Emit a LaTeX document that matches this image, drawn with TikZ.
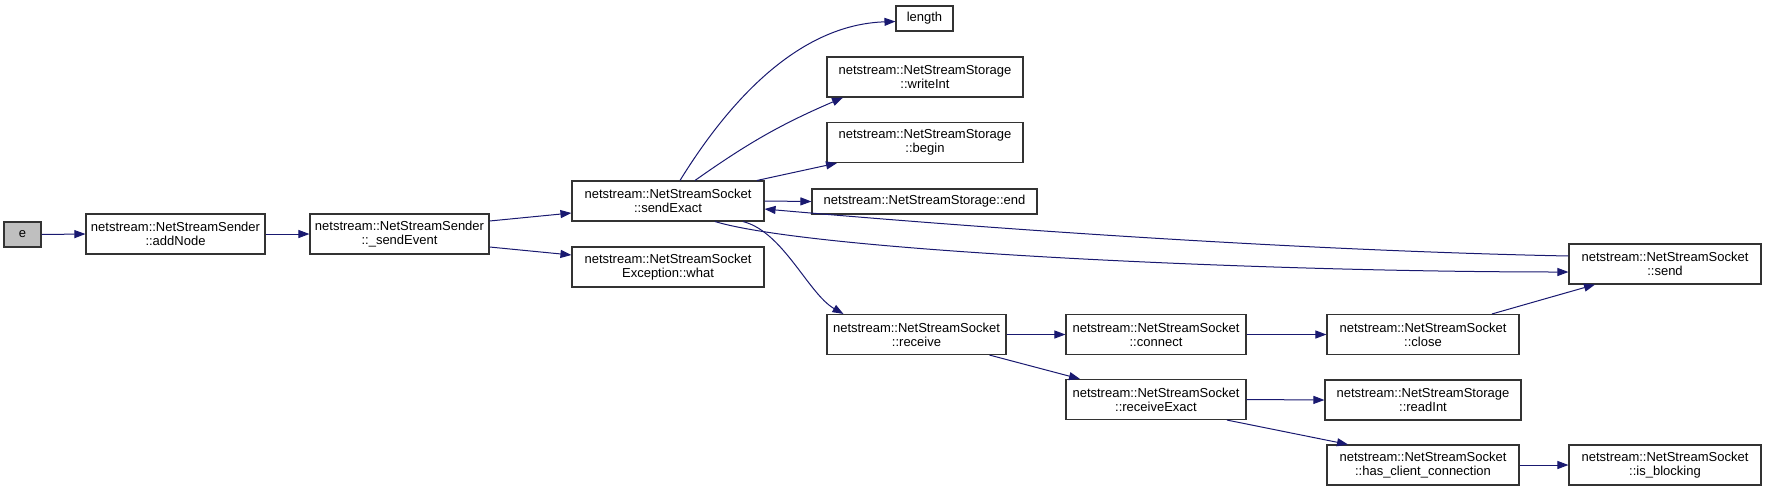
\documentclass[tikz,border=0pt]{standalone}
\usepackage{fontspec}
\setmainfont{Liberation Sans}
\usetikzlibrary{arrows.meta}
\definecolor{edgecol}{HTML}{191970}
\definecolor{boxcol}{HTML}{333333}
\begin{document}
\begin{tikzpicture}[x=1pt,y=-1pt,
  fn/.style={draw=boxcol, line width=1.1pt, fill=white, rectangle, inner sep=0pt, align=center,
    font=\fontsize{13}{14}\selectfont},
  wide/.style={minimum width=192pt, minimum height=40pt},
  call/.style={draw=edgecol, line width=1pt, -{Triangle[length=11pt,width=8pt]}, edgecol}]
\useasboundingbox (0,0) rectangle (1767,491);
% nodes
\node[fn, minimum width=37pt, minimum height=25pt, fill=gray!50] (e) at (22.5,234.5) {e};
\node[fn, minimum width=179pt, minimum height=40pt] (addNode) at (175.5,234) {netstream::NetStreamSender\\::addNode};
\node[fn, minimum width=179pt, minimum height=40pt] (sendEvent) at (399.5,234) {netstream::NetStreamSender\\::\_sendEvent};
\node[fn, wide] (sendExact) at (668,201) {netstream::NetStreamSocket\\::sendExact};
\node[fn, wide] (what) at (668,267) {netstream::NetStreamSocket\\Exception::what};
\node[fn, minimum width=57pt, minimum height=25pt] (length) at (924.5,18.5) {length};
\node[fn, minimum width=196pt, minimum height=40pt] (writeInt) at (925,77) {netstream::NetStreamStorage\\::writeInt};
\node[fn, minimum width=196pt, minimum height=40pt] (begin) at (925,142.5) {netstream::NetStreamStorage\\::begin};
\node[fn, minimum width=225pt, minimum height=25pt] (end) at (924.5,201.5) {netstream::NetStreamStorage::end};
\node[fn, minimum width=179pt, minimum height=40pt] (receive) at (916.5,334.5) {netstream::NetStreamSocket\\::receive};
\node[fn, minimum width=180pt, minimum height=40pt] (connect) at (1156,334.5) {netstream::NetStreamSocket\\::connect};
\node[fn, minimum width=180pt, minimum height=40pt] (receiveExact) at (1156,399.5) {netstream::NetStreamSocket\\::receiveExact};
\node[fn, wide] (close) at (1423,334.5) {netstream::NetStreamSocket\\::close};
\node[fn, minimum width=196pt, minimum height=40pt] (readInt) at (1423,400) {netstream::NetStreamStorage\\::readInt};
\node[fn, wide] (hcc) at (1423,465) {netstream::NetStreamSocket\\::has\_client\_connection};
\node[fn, wide] (send) at (1665,264) {netstream::NetStreamSocket\\::send};
\node[fn, wide] (blocking) at (1665,465) {netstream::NetStreamSocket\\::is\_blocking};
% edges
\draw[call] (e.east) -- (addNode.west);
\draw[call] (addNode.east) -- (sendEvent.west);
\draw[call] ([yshift=13pt]sendEvent.east) -- ([yshift=-12pt]sendExact.west);
\draw[call] ([yshift=-13pt]sendEvent.east) -- ([yshift=12pt]what.west);
\draw[call] ([xshift=12pt]sendExact.north) .. controls +(50,-81) and +(-96,3) .. ([yshift=-3pt]length.west);
\draw[call] ([xshift=27pt]sendExact.north) to[bend left=6] ([xshift=-82pt]writeInt.south);
\draw[call] ([xshift=89pt]sendExact.north) -- ([xshift=-88pt]begin.south);
\draw[call] (sendExact.east) -- (end.west);
\draw[call] ([yshift=8pt]send.west) .. controls +(-250,-5) and +(250,22) .. ([yshift=-8pt]sendExact.east);
\draw[call] ([xshift=47pt]sendExact.south) .. controls +(100,30) and +(-300,0) .. ([yshift=-8pt]send.west);
\draw[call] ([xshift=75pt]sendExact.south) .. controls +(40,10) and +(-35,-20) .. ([xshift=-73pt]receive.north);
\draw[call] (receive.east) -- (connect.west);
\draw[call] ([xshift=73pt]receive.south) -- ([xshift=-76pt]receiveExact.north);
\draw[call] (connect.east) -- (close.west);
\draw[call] ([xshift=69pt]close.north) -- ([xshift=-70pt]send.south);
\draw[call] (receiveExact.east) -- (readInt.west);
\draw[call] ([xshift=71pt]receiveExact.south) -- ([xshift=-75pt]hcc.north);
\draw[call] (hcc.east) -- (blocking.west);
\end{tikzpicture}
\end{document}
